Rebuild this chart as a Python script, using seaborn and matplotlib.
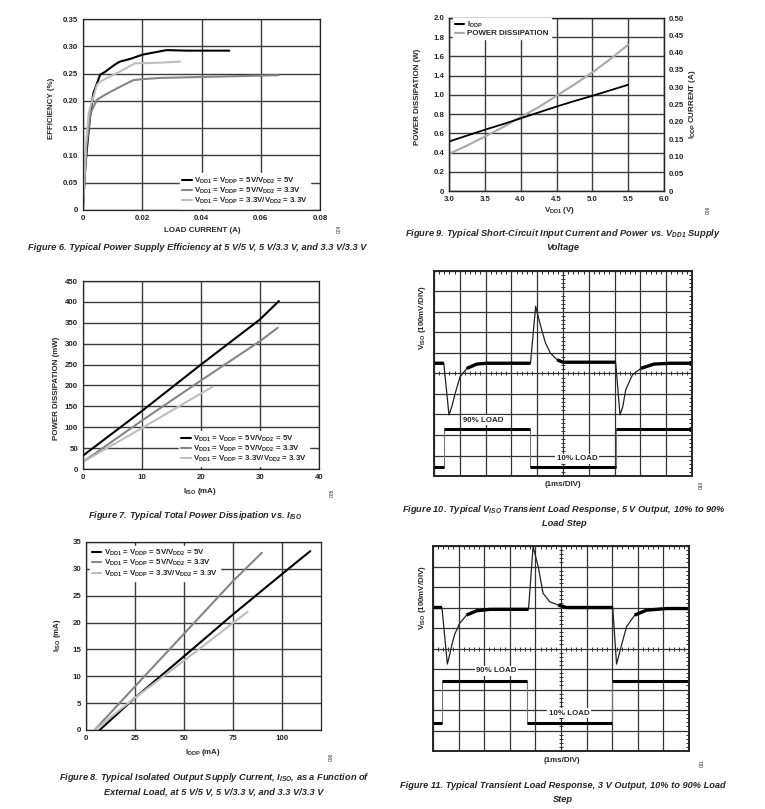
import numpy as np
import matplotlib
matplotlib.use('Agg')
import matplotlib.pyplot as plt
import seaborn as sns

# Figure 6 - efficiency vs load current (A)
eff_a_x = [0, 0.0008, 0.0016, 0.0024, 0.0035, 0.0058, 0.0074, 0.0109, 0.0125, 0.016, 0.0192, 0.0204, 0.0282, 0.035, 0.0494]
eff_a_y = [0.005, 0.08, 0.128, 0.171, 0.214, 0.248, 0.253, 0.267, 0.272, 0.277, 0.283, 0.285, 0.293, 0.292, 0.292]
eff_b_x = [0, 0.0012, 0.0025, 0.0047, 0.0074, 0.0115, 0.017, 0.0204, 0.026, 0.042, 0.066]
eff_b_y = [0.005, 0.12, 0.177, 0.202, 0.211, 0.223, 0.238, 0.240, 0.242, 0.244, 0.247]
eff_c_x = [0, 0.001, 0.0019, 0.0047, 0.0057, 0.0081, 0.0126, 0.0176, 0.0204, 0.026, 0.0327]
eff_c_y = [0.005, 0.12, 0.177, 0.229, 0.235, 0.242, 0.254, 0.269, 0.269, 0.270, 0.272]

# Figure 7 - power dissipation (mW) vs I_ISO (mA)
pd_a_x = [0, 10, 20, 30, 33.2]
pd_a_y = [32, 139, 250, 358, 402]
pd_b_x = [0, 10, 20, 30, 33]
pd_b_y = [17, 116, 212, 306, 338]
pd_c_x = [0, 10, 20, 22]
pd_c_y = [17, 98, 181, 197]

# Figure 8 - I_ISO (mA) vs I_DDP (mA)
iso_a_x = [7, 25, 50, 75, 100, 114.5]
iso_a_y = [0, 6.0, 13.7, 21.5, 29.0, 33.3]
iso_b_x = [4.4, 25, 50, 75, 89.8]
iso_b_y = [0, 8.1, 17.9, 27.7, 33.0]
iso_c_x = [4.5, 25, 50, 75, 82.5]
iso_c_y = [0, 6.0, 12.9, 19.9, 22.0]

# Figure 9 - short circuit current / power vs VDD1
vdd1 = [3.0, 3.25, 3.5, 3.75, 4.0, 4.25, 4.5, 4.75, 5.0, 5.25, 5.5]
power_w = [0.429, 0.525, 0.629, 0.737, 0.853, 0.969, 1.100, 1.232, 1.371, 1.525, 1.691]
iddp_a = [0.143, 0.160, 0.177, 0.193, 0.210, 0.227, 0.244, 0.260, 0.275, 0.291, 0.307]
pd9_labels = ['0', '0.2', '0.4', '0.6', '0.8', '1.0', '1.4', '1.6', '1.8', '2.0']

# Figure 10 - scope traces (divisions)
v10_x = [0, 0.38, 0.58, 0.69, 0.82, 1.01, 1.27, 1.66, 2.05, 3.74, 3.94, 4.12, 4.32, 4.51, 4.77, 5.0,
         7.04, 7.21, 7.32, 7.43, 7.69, 8.02, 8.53, 9.18, 10]
v10_y = [5.5, 5.5, 2.98, 3.38, 4.03, 4.84, 5.25, 5.46, 5.5, 5.5, 8.28, 7.38, 6.49, 6.0, 5.67, 5.55,
         5.55, 2.98, 3.4, 4.2, 4.93, 5.25, 5.46, 5.5, 5.5]
load10_x = [0, 0.38, 0.38, 3.74, 3.74, 7.04, 7.04, 10]
load10_y = [0.42, 0.42, 2.28, 2.28, 0.42, 0.42, 2.28, 2.28]

# Figure 11 - scope traces (divisions)
v11_x = [0, 0.35, 0.56, 0.66, 0.75, 0.85, 1.04, 1.31, 1.70, 2.22, 3.73, 3.91, 4.11, 4.30, 4.56, 4.89, 5.2,
         7.02, 7.17, 7.35, 7.56, 7.88, 8.34, 9.13, 10]
v11_y = [7.0, 7.0, 4.24, 4.75, 5.25, 5.7, 6.22, 6.63, 6.84, 6.91, 6.91, 9.97, 8.99, 7.69, 7.28, 7.12, 7.0,
         7.0, 4.24, 5.1, 6.06, 6.63, 6.87, 6.95, 6.95]
load11_x = [0, 0.35, 0.35, 3.69, 3.69, 6.99, 6.99, 10]
load11_y = [1.37, 1.37, 3.42, 3.42, 1.37, 1.37, 3.42, 3.42]

lab_55 = 'V$_{DD1}$ = V$_{DDP}$ = 5V/V$_{DD2}$ = 5V'
lab_53 = 'V$_{DD1}$ = V$_{DDP}$ = 5V/V$_{DD2}$ = 3.3V'
lab_33 = 'V$_{DD1}$ = V$_{DDP}$ = 3.3V/V$_{DD2}$ = 3.3V'

sns.set_style('white')
plt.rcParams['font.family'] = ['Liberation Sans', 'DejaVu Sans']
plt.rcParams['mathtext.default'] = 'regular'
plt.rcParams['axes.linewidth'] = 0.9

W, H = 765, 809
fig = plt.figure(figsize=(W / 100, H / 100), dpi=100)

BLACK, MID, LIGHT = '#000000', '#858585', '#bdbdbd'
SMALL = 5.7
CAP = ['Liberation Sans Narrow', 'Liberation Sans', 'DejaVu Sans']


def rect(x0, y0, x1, y1):
    return [x0 / W, 1 - y1 / H, (x1 - x0) / W, (y1 - y0) / H]


def put(x, y, s, **kw):
    kw.setdefault('fontsize', SMALL)
    kw.setdefault('fontweight', 'bold')
    fig.text(x / W, 1 - y / H, s, ha='center', va='center', **kw)


def caption(x, y, s):
    fig.text(x / W, 1 - y / H, s, ha='center', va='center', fontsize=6.7,
             fontweight='bold', style='italic', family=CAP)


def grid_axes(box, xlim, ylim, xticks, xlabels, yticks, ylabels):
    ax = fig.add_axes(rect(*box))
    ax.set_xlim(*xlim)
    ax.set_ylim(*ylim)
    ax.set_xticks(xticks, xlabels, fontsize=SMALL, fontweight='bold')
    ax.set_yticks(yticks, ylabels, fontsize=SMALL, fontweight='bold')
    ax.tick_params(length=0, pad=3.5)
    ax.grid(True, color='#3c3c3c', lw=1.0)
    ax.set_axisbelow(True)
    ax.set_xlabel('')
    ax.set_ylabel('')
    return ax


def legend(ax, loc, anchor, handles=None):
    kw = dict(loc=loc, bbox_to_anchor=anchor, prop={'size': SMALL, 'weight': 'bold'},
              handlelength=1.2, handletextpad=0.35, labelspacing=0.0, borderpad=0.25,
              fancybox=False, framealpha=1, edgecolor='white')
    if handles is not None:
        kw['handles'] = handles
    leg = ax.legend(**kw)
    for ln in leg.get_lines():
        ln.set_linewidth(1.5)
    return leg


def line(ax, x, y, color, label=None, lw=1.5):
    sns.lineplot(x=x, y=y, ax=ax, color=color, lw=lw, sort=False, estimator=None, label=label)


# ---- Figure 6
ax6 = grid_axes((83, 19, 320, 210), (0, 0.08), (0, 0.35),
                [0, 0.02, 0.04, 0.06, 0.08], ['0', '0.02', '0.04', '0.06', '0.08'],
                np.arange(0, 0.351, 0.05), ['0', '0.05', '0.10', '0.15', '0.20', '0.25', '0.30', '0.35'])
line(ax6, eff_a_x, eff_a_y, BLACK, lab_55)
line(ax6, eff_b_x, eff_b_y, MID, lab_53)
line(ax6, eff_c_x, eff_c_y, LIGHT, lab_33)
legend(ax6, 'lower right', (0.975, -0.01))
put(52, 108, 'EFFICIENCY (%)', rotation=90)
put(202, 230, 'LOAD CURRENT (A)')
put(339, 229, '004', fontsize=3.5, fontweight='normal', rotation=90)
caption(197, 247, 'Figure 6. Typical Power Supply Efficiency at 5 V/5 V, 5 V/3.3 V, and 3.3 V/3.3 V')

# ---- Figure 9
ax9 = grid_axes((449, 18, 664, 191), (3, 6), (0, 2),
                np.arange(3, 6.01, 0.5), ['3.0', '3.5', '4.0', '4.5', '5.0', '5.5', '6.0'],
                np.linspace(0, 2, 10), pd9_labels)
ax9r = ax9.twinx()
ax9r.set_ylim(0, 0.5)
ax9r.set_yticks(np.arange(0, 0.501, 0.05),
                ['0', '0.05', '0.10', '0.15', '0.20', '0.25', '0.30', '0.35', '0.40', '0.45', '0.50'],
                fontsize=SMALL, fontweight='bold')
ax9r.tick_params(length=0, pad=3.5)
ax9r.grid(False)
line(ax9, vdd1, power_w, '#a8a8a8', 'POWER DISSIPATION')
line(ax9r, vdd1, iddp_a, BLACK, 'I$_{DDP}$', lw=1.3)
ax9.get_legend().remove()
ax9r.set_ylabel('')
h9 = ax9r.get_legend_handles_labels()[0] + ax9.get_legend_handles_labels()[0]
legend(ax9r, 'upper left', (0.0, 1.025), handles=h9)
put(418, 97, 'POWER DISSIPATION (W)', rotation=90)
put(692, 104, 'I$_{DDP}$ CURRENT (A)', rotation=90)
put(559, 210, 'V$_{DD1}$ (V)')
put(708, 210, '009', fontsize=3.5, fontweight='normal', rotation=90)
caption(563, 233, 'Figure 9. Typical Short-Circuit Input Current and Power vs. V$_{DD1}$ Supply')
caption(563, 248, 'Voltage')

# ---- Figure 7
ax7 = grid_axes((83, 281, 319, 469), (0, 40), (0, 450),
                [0, 10, 20, 30, 40], ['0', '10', '20', '30', '40'],
                np.arange(0, 451, 50), [str(v) for v in range(0, 451, 50)])
line(ax7, pd_a_x, pd_a_y, BLACK, lab_55)
line(ax7, pd_b_x, pd_b_y, MID, lab_53)
line(ax7, pd_c_x, pd_c_y, LIGHT, lab_33)
legend(ax7, 'lower right', (0.975, -0.005))
put(56, 388, 'POWER DISSIPATION (mW)', rotation=90)
put(200, 491, 'I$_{ISO}$ (mA)')
put(332, 493, '005', fontsize=3.5, fontweight='normal', rotation=90)
caption(195, 515, 'Figure 7. Typical Total Power Dissipation vs. I$_{ISO}$')

# ---- Figure 8
ax8 = grid_axes((86, 542, 321, 730), (0, 120), (0, 35),
                [0, 25, 50, 75, 100], ['0', '25', '50', '75', '100'],
                np.arange(0, 36, 5), [str(v) for v in range(0, 36, 5)])
line(ax8, iso_a_x, iso_a_y, BLACK, lab_55)
line(ax8, iso_b_x, iso_b_y, MID, lab_53)
line(ax8, iso_c_x, iso_c_y, LIGHT, lab_33)
legend(ax8, 'upper left', (0.0, 1.0))
put(58, 635, 'I$_{ISO}$ (mA)', rotation=90)
put(203, 752, 'I$_{DDP}$ (mA)')
put(331, 757, '006', fontsize=3.5, fontweight='normal', rotation=90)
caption(214, 777, 'Figure 8. Typical Isolated Output Supply Current, I$_{ISO}$, as a Function of')
caption(214, 792, 'External Load, at 5 V/5 V, 5 V/3.3 V, and 3.3 V/3.3 V')


# ---- scope panels
def scope_axes(box):
    ax = fig.add_axes(rect(*box))
    ax.set_xlim(0, 10)
    ax.set_ylim(0, 10)
    ax.set_xticks(range(11))
    ax.set_yticks(range(11))
    minor = np.arange(0, 10.01, 0.2)
    ax.set_xticks(minor, minor=True)
    ax.set_yticks(minor, minor=True)
    ax.tick_params(which='both', labelleft=False, labelbottom=False, direction='in',
                   top=True, right=True)
    ax.tick_params(which='major', length=0)
    ax.tick_params(which='minor', length=2.2, width=0.7)
    ax.grid(True, which='major', color='#333333', lw=0.9)
    ax.set_axisbelow(True)
    ax.plot(minor, np.full(minor.size, 5.0), '|', color='#333333', ms=2.5, mew=0.7)
    ax.plot(np.full(minor.size, 5.0), minor, '_', color='#333333', ms=2.5, mew=0.7)
    for sp in ax.spines.values():
        sp.set_linewidth(1.4)
    return ax


def traces(ax, vx, vy, lx, ly):
    line(ax, vx, vy, '#222222', lw=0.9)
    vy = np.array(vy)
    thick = np.where(np.abs(vy - np.median(vy)) < 0.35, vy, np.nan)
    ax.plot(vx, thick, color=BLACK, lw=2.4, solid_capstyle='butt')
    line(ax, lx, ly, '#777777', lw=0.8)
    ax.hlines(ly[0::2], lx[0::2], lx[1::2], color=BLACK, lw=2.2)
    ax.set_xlabel('')
    ax.set_ylabel('')


ax10 = scope_axes((434, 271, 692, 476))
traces(ax10, v10_x, v10_y, load10_x, load10_y)
box_kw = dict(fc='white', ec='none', pad=1.2)
ax10.text(1.92, 2.73, '90% LOAD', ha='center', va='center', fontsize=SMALL, fontweight='bold', bbox=box_kw)
ax10.text(5.55, 0.83, '10% LOAD', ha='center', va='center', fontsize=SMALL, fontweight='bold', bbox=box_kw)
put(422, 318, 'V$_{ISO}$ (100mV/DIV)', rotation=90)
put(563, 485, '(1ms/DIV)')
put(701, 485, '010', fontsize=3.5, fontweight='normal', rotation=90)
caption(564, 509, 'Figure 10. Typical V$_{ISO}$ Transient Load Response, 5 V Output, 10% to 90%')
caption(564, 523, 'Load Step')

ax11 = scope_axes((433, 546, 689, 751))
traces(ax11, v11_x, v11_y, load11_x, load11_y)
ax11.text(2.48, 3.91, '90% LOAD', ha='center', va='center', fontsize=SMALL, fontweight='bold', bbox=box_kw)
ax11.text(5.32, 1.84, '10% LOAD', ha='center', va='center', fontsize=SMALL, fontweight='bold', bbox=box_kw)
put(423, 598, 'V$_{ISO}$ (100mV/DIV)', rotation=90)
put(562, 761, '(1ms/DIV)')
put(702, 763, '011', fontsize=3.5, fontweight='normal', rotation=90)
caption(563, 785, 'Figure 11. Typical Transient Load Response, 3 V Output, 10% to 90% Load')
caption(563, 799, 'Step')

fig.savefig('out.png', dpi=100)
